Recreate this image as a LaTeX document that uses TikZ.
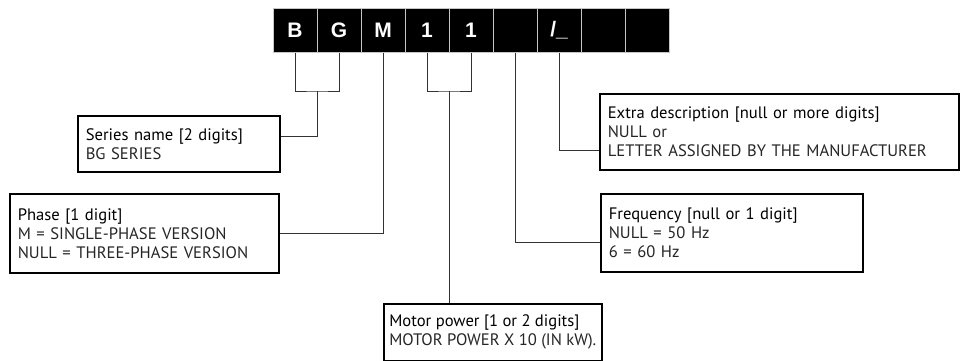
\documentclass[tikz,border=0pt]{standalone}
\usepackage{fontspec}
\setmainfont{PT Sans}
\newfontfamily\cellfont{Liberation Sans}
\usetikzlibrary{positioning,calc}

\begin{document}
\begin{tikzpicture}[x=1pt,y=-1pt,
  cell/.style={draw=gray!45, line width=1pt, fill=black, text=white, minimum size=44pt, inner sep=0pt, font=\cellfont\bfseries\fontsize{21}{21}\selectfont},
  infobox/.style={draw=black, line width=1.6pt, fill=white, anchor=north west, align=left, inner xsep=8pt, inner ysep=0pt, text=black!85, font=\fontsize{16.6}{19}\selectfont},
  link/.style={draw=black!80, line width=0.8pt}]
\useasboundingbox (0,0) rectangle (963,361);

% code cells
\foreach \ch [count=\i] in {B,G,M,1,1,{},{/\_},{},{}}
  \node[cell] (c\i) at ({295+44*(\i-1)},30.5) {\ch};

% description boxes
\node[infobox, text width=186pt, minimum height=56pt] (series) at (77,115)
  {\textcolor{black}{Series name [2 digits]}\\BG SERIES};
\node[infobox, text width=253pt, minimum height=79pt] (phase) at (9,193)
  {\textcolor{black}{Phase [1 digit]}\\M = SINGLE-PHASE VERSION\\NULL = THREE-PHASE VERSION};
\node[infobox, inner xsep=4pt, minimum width=218pt, minimum height=57pt] (motor) at (383,303)
  {\textcolor{black}{Motor power [1 or 2 digits]}\\MOTOR POWER X 10 (IN kW).};
\node[infobox, text width=246pt, minimum height=78pt] (freq) at (600,193)
  {\textcolor{black}{Frequency [null or 1 digit]}\\NULL = 50 Hz\\6 = 60 Hz};
\node[infobox, text width=343pt, minimum height=76pt] (extra) at (599,93)
  {\textcolor{black}{Extra description [null or more digits]}\\NULL or\\LETTER ASSIGNED BY THE MANUFACTURER};

% junctions
\coordinate (sj) at ($(c1.south)!0.5!(c2.south)+(0,38)$);
\coordinate (mj) at ($(c4.south)!0.5!(c5.south)+(0,38)$);
\coordinate (sin) at ($(series.north east)!0.375!(series.south east)$);
\coordinate (fin) at ($(freq.north west)!0.62!(freq.south west)$);
\coordinate (ein) at ($(extra.north west)!0.74!(extra.south west)$);

% connectors
\draw[link] (c1.south) |- (sj) -| (c2.south);
\draw[link] (sj) |- (sin);
\draw[link] (c3.south) |- (phase.east);
\draw[link] (c4.south) |- (mj) -| (c5.south);
\draw[link] (mj) -- (mj |- motor.north);
\draw[link] (c6.south) |- (fin);
\draw[link] (c7.south) |- (ein);
\end{tikzpicture}
\end{document}
